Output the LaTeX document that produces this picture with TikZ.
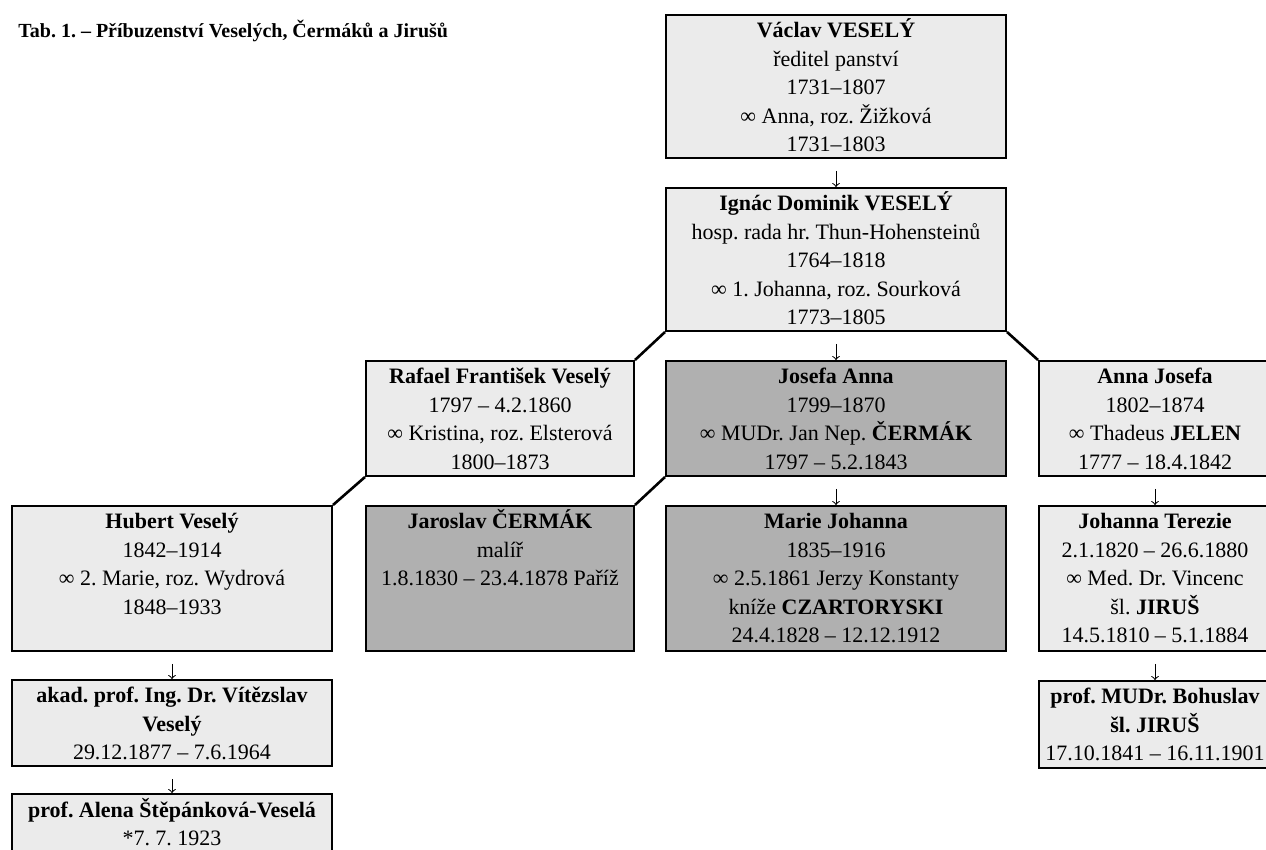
\documentclass[tikz,border=0pt]{standalone}
\usepackage{fontspec}
\setmainfont{Liberation Serif}
\usepackage{color}
\definecolor{lightbox}{gray}{0.92}
\definecolor{darkbox}{gray}{0.69}
\frenchspacing

\begin{document}
\begin{tikzpicture}[x=0.5pt, y=-0.5pt,
      box/.style={draw, line width=1pt, fill=lightbox, inner sep=0pt, anchor=north west,
        align=flush center, text height=11.5pt, font=\fontsize{11}{14.25}\selectfont},
      shadedbox/.style={box, fill=darkbox},
      link/.style={line width=1.3pt},
      down/.style={->, line width=0.5pt}]

      \useasboundingbox (0,0) rectangle (1266,850);
      \clip (0,0) rectangle (1266,850);

      \node[anchor=base west, inner sep=0pt, font=\bfseries\fontsize{10}{12}\selectfont] (title) at (18,38)
        {Tab. 1. – Příbuzenství Veselých, Čermáků a Jirušů};

      \node[box, text width=170pt, text depth=60pt] (vaclav) at (665,14)
        {\textbf{Václav VESELÝ}\\ ředitel panství\\ 1731–1807\\ ∞ Anna, roz. Žižková\\ 1731–1803};
      \node[box, text width=170pt, text depth=60pt] (ignac) at (665,187)
        {\textbf{Ignác Dominik VESELÝ}\\ hosp. rada hr. Thun-Hohensteinů\\ 1764–1818\\ ∞ 1. Johanna, roz. Sourková\\ 1773–1805};

      \node[box, text width=134pt, text depth=46pt] (rafael) at (365,360)
        {\textbf{Rafael František Veselý}\\ 1797 – 4.2.1860\\ ∞ Kristina, roz. Elsterová\\ 1800–1873};
      \node[shadedbox, text width=170pt, text depth=46pt] (josefa) at (665,360)
        {\textbf{Josefa Anna}\\ 1799–1870\\ ∞ MUDr. Jan Nep. \textbf{ČERMÁK}\\ 1797 – 5.2.1843};
      \node[box, text width=116pt, text depth=46pt] (annajosefa) at (1038,360)
        {\textbf{Anna Josefa}\\ 1802–1874\\ ∞ Thadeus \textbf{JELEN}\\ 1777 – 18.4.1842};

      \node[box, text width=160pt, text depth=61pt] (hubert) at (11,505)
        {\textbf{Hubert Veselý}\\ 1842–1914\\ ∞ 2. Marie, roz. Wydrová\\ 1848–1933};
      \node[shadedbox, text width=134pt, text depth=61pt] (jaroslav) at (365,505)
        {\textbf{Jaroslav ČERMÁK}\\ malíř\\ 1.8.1830 – 23.4.1878 Paříž};
      \node[shadedbox, text width=170pt, text depth=61pt] (marie) at (665,505)
        {\textbf{Marie Johanna}\\ 1835–1916\\ ∞ 2.5.1861 Jerzy Konstanty\\ kníže \textbf{CZARTORYSKI}\\ 24.4.1828 – 12.12.1912};
      \node[box, text width=116pt, text depth=61pt] (johanna) at (1038,505)
        {\textbf{Johanna Terezie}\\ 2.1.1820 – 26.6.1880\\ ∞ Med. Dr. Vincenc\\ šl. \textbf{JIRUŠ}\\ 14.5.1810 – 5.1.1884};

      \node[box, text width=160pt, text depth=31.5pt] (vitezslav) at (11,679)
        {\textbf{akad. prof. Ing. Dr. Vítězslav}\\ \textbf{Veselý}\\ 29.12.1877 – 7.6.1964};
      \node[box, text width=160pt, text depth=22.5pt] (alena) at (11,793)
        {\textbf{prof. Alena Štěpánková-Veselá}\\ {*}7. 7. 1923};
      \node[box, text width=116pt, text depth=32pt] (bohuslav) at (1038,680)
        {\textbf{prof. MUDr. Bohuslav}\\ \textbf{šl. JIRUŠ}\\ 17.10.1841 – 16.11.1901};

      \draw[down] ([yshift=-6pt]vaclav.south) -- (ignac.north);
      \draw[down] ([yshift=-6pt]ignac.south) -- (josefa.north);
      \draw[down] ([yshift=-6pt]josefa.south) -- (marie.north);
      \draw[down] ([yshift=-6pt]annajosefa.south) -- (johanna.north);
      \draw[down] ([yshift=-6pt]johanna.south) -- (bohuslav.north);
      \draw[down] ([yshift=-6pt]hubert.south) -- (vitezslav.north);
      \draw[down] ([yshift=-6pt]vitezslav.south) -- (alena.north);

      \draw[link] (ignac.south west) -- (rafael.north east);
      \draw[link] (ignac.south east) -- (annajosefa.north west);
      \draw[link] (rafael.south west) -- (hubert.north east);
      \draw[link] (josefa.south west) -- (jaroslav.north east);

    \end{tikzpicture}
\end{document}
